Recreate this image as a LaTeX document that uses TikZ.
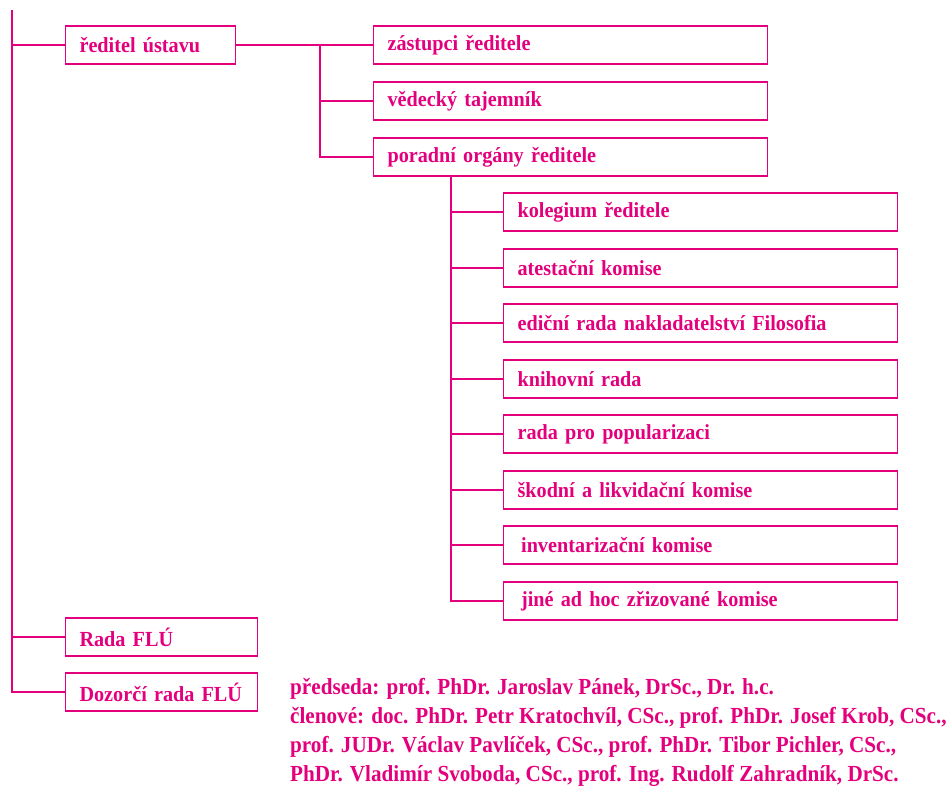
\documentclass[tikz,border=0pt]{standalone}
\usepackage{fontspec}
\setmainfont{Liberation Serif}
\newfontfamily\flufont{Liberation Serif Bold}[FakeStretch=0.94]
\newfontfamily\clenfont{Liberation Serif Bold}[FakeStretch=0.92]
\definecolor{flupink}{RGB}{228,0,124}

\begin{document}
\begin{tikzpicture}[x=1pt,y=-1pt,
  box/.style={draw=flupink, line width=1.1pt, anchor=west, minimum height=38pt,
    inner xsep=14pt, inner ysep=0pt, align=left, text=flupink,
    font=\flufont\fontsize{21.5}{24}\selectfont},
  wide/.style={box, text width=366pt},
  link/.style={draw=flupink, line width=1.7pt}]
\useasboundingbox (0,0) rectangle (952,785);

% vedeni
\node [box, text width=142pt] (reditel) at (65,45) {ředitel~ústavu};
\node [wide] (zastupci) at (373,45) {zástupci ředitele};
\node [wide] (vedecky) at (373,101) {vědecký tajemník};
\node [wide] (poradni) at (373,157) {poradní orgány ředitele};

% poradni organy
\node [wide] (kolegium) at (503,212) {kolegium ředitele};
\node [wide] (atestacni) at (503,268) {atestační komise};
\node [wide] (edicni) at (503,323) {ediční rada nakladatelství Filosofia};
\node [wide] (knihovni) at (503,379) {knihovní rada};
\node [wide] (popularizace) at (503,434) {rada pro popularizaci};
\node [wide] (skodni) at (503,490) {škodní a likvidační komise};
\node [wide] (inventarizace) at (503,545) {\,inventarizační komise};
\node [wide] (jine) at (503,601) {\,jiné ad hoc zřizované komise};

% rady
\node [box, text width=164pt] (rada) at (65,637) {Rada~FLÚ};
\node [box, text width=164pt] (dozorci) at (65,692) {Dozorčí~rada~FLÚ};

\node [anchor=base west, inner sep=0pt, align=left, text=flupink,
  font=\clenfont\fontsize{23}{29}\selectfont] (clenove) at (290,781)
  {předseda: prof. PhDr. Jaroslav Pánek, DrSc., Dr. h.c.\\
   členové: doc. PhDr. Petr Kratochvíl, CSc., prof. PhDr. Josef Krob, CSc.,\\
   prof. JUDr. Václav Pavlíček, CSc., prof. PhDr. Tibor Pichler, CSc.,\\
   PhDr. Vladimír Svoboda, CSc., prof. Ing. Rudolf Zahradník, DrSc.};

% spoje
\coordinate (kmen) at (12,10);
\coordinate (rozv) at (320,45);
\coordinate (osa) at (451,0);
\draw [link] (kmen) |- (dozorci.west);
\draw [link] (kmen |- reditel.west) -- (reditel.west);
\draw [link] (kmen |- rada.west) -- (rada.west);
\draw [link] (reditel.east) -- (zastupci.west);
\draw [link] (rozv) |- (poradni.west);
\draw [link] (rozv |- vedecky.west) -- (vedecky.west);
\draw [link] (osa |- poradni.south) |- (jine.west);
\draw [link] (osa |- kolegium.west) -- (kolegium.west);
\draw [link] (osa |- atestacni.west) -- (atestacni.west);
\draw [link] (osa |- edicni.west) -- (edicni.west);
\draw [link] (osa |- knihovni.west) -- (knihovni.west);
\draw [link] (osa |- popularizace.west) -- (popularizace.west);
\draw [link] (osa |- skodni.west) -- (skodni.west);
\draw [link] (osa |- inventarizace.west) -- (inventarizace.west);
\end{tikzpicture}
\end{document}
